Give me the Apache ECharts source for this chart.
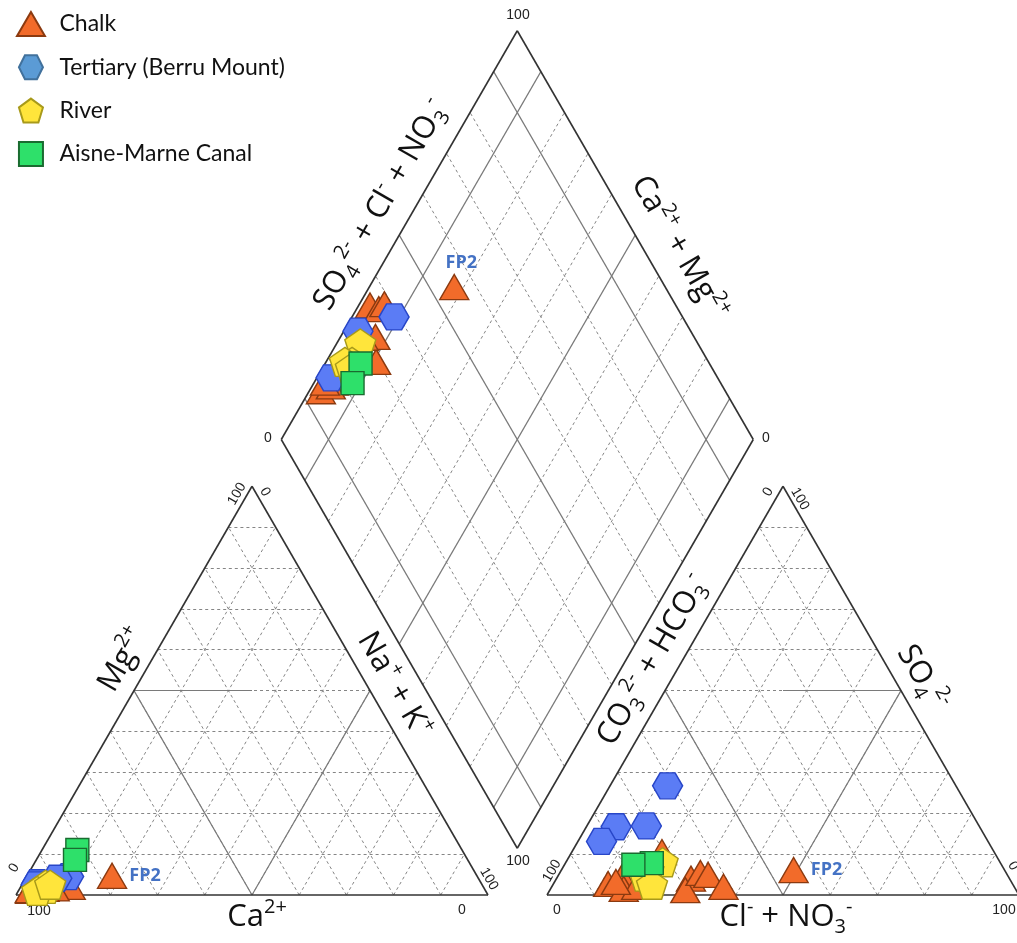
<!DOCTYPE html>
<html><head><meta charset="utf-8">
<script src="https://cdn.jsdelivr.net/npm/echarts@6/dist/echarts.min.js"></script>
<style>html,body{margin:0;padding:0;background:#fff}#c{width:1017px;height:943px}</style>
</head><body><div id="c"></div>
<script>
// ---- DATA (% meq/L) : [Ca, Mg, Na+K, SO4, Cl+NO3]  (HCO3+CO3 = 100 - SO4 - Cl)
const groupNames = ['Chalk', 'Tertiary (Berru Mount)', 'River', 'Aisne-Marne Canal'];
const chalk = [
  [96.5, 1.0, 2.5, 2.7, 11.6],
  [94.3, 1.5, 4.2, 4.4, 13.7],
  [94.5, 1.5, 4.0, 1.5, 15.5],
  [87.4, 2.0, 10.6, 10.5, 19.1],
  [91.0, 1.6, 7.4, 4.0, 28.5],
  [93.5, 1.5, 5.0, 1.2, 28.7],
  [96.0, 1.6, 2.4, 5.4, 29.8],
  [93.5, 1.8, 4.7, 4.9, 31.7],
  [93.2, 1.5, 5.3, 2.0, 36.4],
  [95.5, 1.5, 3.0, 2.0, 17.9],
  [96.5, 1.2, 2.3, 3.2, 13.0],
  [77.3, 4.7, 18.0, 6.1, 49.2]
];
const chalkNames = ['', '', '', '', '', '', '', '', '', '', '', 'FP2'];
const tertiary = [
  [86.6, 4.5, 8.9, 26.7, 12.2],
  [89.3, 4.1, 6.6, 16.7, 6.3],
  [94.0, 3.0, 3.0, 16.9, 12.6],
  [94.5, 2.5, 3.0, 13.1, 5.0]
];
const river = [
  [92.5, 2.5, 5.0, 8.0, 20.5],
  [93.0, 1.5, 5.5, 6.0, 18.5],
  [95.0, 1.0, 4.0, 4.5, 18.5],
  [91.5, 2.5, 6.0, 2.5, 21.0]
];
const canal = [
  [81.5, 11.0, 7.5, 7.8, 18.3],
  [83.2, 8.6, 8.2, 7.4, 14.6]
];
const gridSteps = [10, 20, 30, 40, 50, 60, 70, 80, 90];
const diamondSolidSteps = [10, 50, 90];

// ---- GEOMETRY (units: one triangle side = 100)
const S = 4.72;               // px per unit
const H = Math.sqrt(3) / 2;
const AX = 112.5;             // x origin of anion triangle
const DB = [106.2, 9.9];      // bottom vertex of diamond
function triPt(ox, r, t) { return [ox + r + t / 2, t * H]; }
function diaPt(A, C) { return [DB[0] + (A - C) / 2, DB[1] + (A + C) * H]; }
function norm3(a, b, c) { const s = a + b + c; return [a * 100 / s, b * 100 / s, c * 100 / s]; }
function positions(s) {
  const [ca, mg, nak] = norm3(s[0], s[1], s[2]);
  const hco3 = 100 - s[3] - s[4];
  const [h, so4, cl] = norm3(hco3, s[3], s[4]);
  return {
    cat: triPt(0, nak, mg),
    an: triPt(AX, cl, so4),
    dia: diaPt(so4 + cl, ca + mg)
  };
}

const FP2style = { color: '#4472C4', fontWeight: 'bold', fontSize: 18, fontFamily: 'Open Sans' };
function buildData(samples, names) {
  const out = [];
  samples.forEach((s, i) => {
    const p = positions(s);
    const nm = names ? names[i] : '';
    const lab = (pos, off) => nm ? { show: true, formatter: nm, position: pos, offset: off, distance: 2, ...FP2style } : undefined;
    out.push({ value: p.cat, label: lab('right', [0, 0]) });
    out.push({ value: p.an, label: lab('right', [0, 0]) });
    out.push({ value: p.dia, label: lab('top', [7, 0]) });
  });
  return out;
}

// ---- grid lines
const dashed = [], solid = [], edges = [];
const seg = (p, q) => ({ coords: [p, q] });
[0, AX].forEach(ox => {
  edges.push(seg(triPt(ox, 0, 0), triPt(ox, 100, 0)));
  edges.push(seg(triPt(ox, 100, 0), triPt(ox, 0, 100)));
  edges.push(seg(triPt(ox, 0, 100), triPt(ox, 0, 0)));
  gridSteps.forEach(k => {
    dashed.push(seg(triPt(ox, 0, k), triPt(ox, 100 - k, k)));
    dashed.push(seg(triPt(ox, k, 0), triPt(ox, k, 100 - k)));
    dashed.push(seg(triPt(ox, 100 - k, 0), triPt(ox, 0, 100 - k)));
  });
});
// facies lines, cation triangle
solid.push(seg(triPt(0, 0, 50), triPt(0, 50, 0)));
solid.push(seg(triPt(0, 50, 0), triPt(0, 50, 50)));
solid.push(seg(triPt(0, 0, 50), triPt(0, 25, 50)));
// anion triangle
solid.push(seg(triPt(AX, 0, 50), triPt(AX, 50, 0)));
solid.push(seg(triPt(AX, 50, 0), triPt(AX, 50, 50)));
solid.push(seg(triPt(AX, 25, 50), triPt(AX, 50, 50)));
// diamond
edges.push(seg(diaPt(0, 0), diaPt(100, 0)));
edges.push(seg(diaPt(100, 0), diaPt(100, 100)));
edges.push(seg(diaPt(100, 100), diaPt(0, 100)));
edges.push(seg(diaPt(0, 100), diaPt(0, 0)));
gridSteps.forEach(k => {
  const arr = diamondSolidSteps.includes(k) ? solid : dashed;
  arr.push(seg(diaPt(k, 0), diaPt(k, 100)));
  arr.push(seg(diaPt(0, k), diaPt(100, k)));
});

const hexPath = 'path://M0,50 L25,0 L75,0 L100,50 L75,100 L25,100 Z';
const pentPath = 'path://M50,0 L100,37 L81,100 L19,100 L0,37 Z';
const triPath = 'path://M50,0 L100,86 L0,86 Z';
const sqPath = 'path://M0,0 L100,0 L100,100 L0,100 Z';

const chart = echarts.init(document.getElementById('c'), null, { renderer: 'canvas' });
const lineSeries = (data, style, z) => ({
  type: 'lines', coordinateSystem: 'cartesian2d', polyline: false, silent: true,
  data, lineStyle: style, z, animation: false, clip: false, symbol: 'none'
});
const pointSeries = (name, data, symbol, size, fill, border, z) => ({
  type: 'scatter', name, data, symbol, symbolSize: size, clip: false, z,
  itemStyle: { color: fill, borderColor: border, borderWidth: 1.4, opacity: 1 },
  emphasis: { disabled: true }, animation: false
});

const TF = 'Open Sans';
const rich = {
  n: { fontSize: 31, fontFamily: TF, lineHeight: 40, verticalAlign: 'middle', fill: '#111', color: '#111' },
  p: { fontSize: 20, fontFamily: TF, lineHeight: 20, verticalAlign: 'top', fill: '#111', color: '#111' },
  b: { fontSize: 20, fontFamily: TF, lineHeight: 20, verticalAlign: 'bottom', fill: '#111', color: '#111' }
};
const titleText = (text, x, y, deg) => ({
  type: 'text', x, y, rotation: deg * Math.PI / 180, silent: true,
  style: { text, rich, align: 'center', verticalAlign: 'middle', fill: '#111' }
});
const tickText = (text, x, y, deg) => ({
  type: 'text', x, y, rotation: deg * Math.PI / 180, silent: true,
  style: { text, fontSize: 14, fontFamily: 'Liberation Sans', fill: '#222', align: 'center', verticalAlign: 'middle' }
});

chart.setOption({
  animation: false,
  grid: { left: 0, right: 0, top: 0, bottom: 0 },
  xAxis: { type: 'value', min: -16 / S, max: (1017 - 16) / S, show: false },
  yAxis: { type: 'value', min: -(943 - 895) / S, max: 895 / S, show: false },
  legend: {
    orient: 'vertical', left: 11, top: 6, itemGap: 17.3, itemWidth: 47, itemHeight: 24,
    textStyle: { fontSize: 23, fontFamily: 'Lato', color: '#111' },
    data: [
      { name: groupNames[0], icon: triPath },
      { name: groupNames[1], icon: hexPath, itemStyle: { color: '#5B9BD5', borderColor: '#41719C' } },
      { name: groupNames[2], icon: pentPath },
      { name: groupNames[3], icon: sqPath }
    ]
  },
  series: [
    lineSeries(dashed, { color: '#858585', width: 1, type: [3, 3], opacity: 1 }, 1),
    lineSeries(solid, { color: '#7a7a7a', width: 1.2, type: 'solid', opacity: 1 }, 2),
    lineSeries(edges, { color: '#333', width: 1.6, type: 'solid', opacity: 1 }, 3),
    pointSeries(groupNames[0], buildData(chalk, chalkNames), 'triangle', [29, 25], '#F26B2A', '#8B3A10', 10),
    pointSeries(groupNames[1], buildData(tertiary), hexPath, [30, 26], '#5B7CF5', '#2846C8', 11),
    pointSeries(groupNames[2], buildData(river), pentPath, [31, 29], '#FFE53B', '#A89A1A', 12),
    pointSeries(groupNames[3], buildData(canal), 'rect', [23, 23], '#2EE06A', '#1A6B30', 13)
  ],
  graphic: [
    titleText('{n|Mg}{p|2+}', 123, 660, 60),
    titleText('{n|Na}{p|+}{n| + K}{p|+}', 394, 685, -60),
    titleText('{n|Ca}{p|2+}', 257, 917, 0),
    titleText('{n|CO}{b|3}{p|2-}{n| + HCO}{b|3}{p|-}', 653, 660, 60),
    titleText('{n|SO}{b|4}{p|2-}', 922, 678, -60),
    titleText('{n|Cl}{p|-}{n| + NO}{b|3}{p|-}', 786, 917, 0),
    titleText('{n|SO}{b|4}{p|2-}{n| + Cl}{p|-}{n| + NO}{b|3}{p|-}', 381, 205, 60),
    titleText('{n|Ca}{p|2+}{n| + Mg}{p|2+}', 679, 248, -60),
    tickText('100', 237, 494, 60), tickText('0', 265, 492, -60),
    tickText('0', 14, 868, 60), tickText('100', 39, 911, 0),
    tickText('100', 489, 879, -60), tickText('0', 462, 910, 0),
    tickText('0', 768, 492, 60), tickText('100', 800, 499, -60),
    tickText('100', 552, 871, 60), tickText('0', 557, 910, 0),
    tickText('0', 1013, 866, -60), tickText('100', 1004, 910, 0),
    tickText('100', 518, 15, 0), tickText('0', 268, 438, 0),
    tickText('0', 766, 438, 0), tickText('100', 518, 861, 0)
  ]
});
</script>
</body></html>
